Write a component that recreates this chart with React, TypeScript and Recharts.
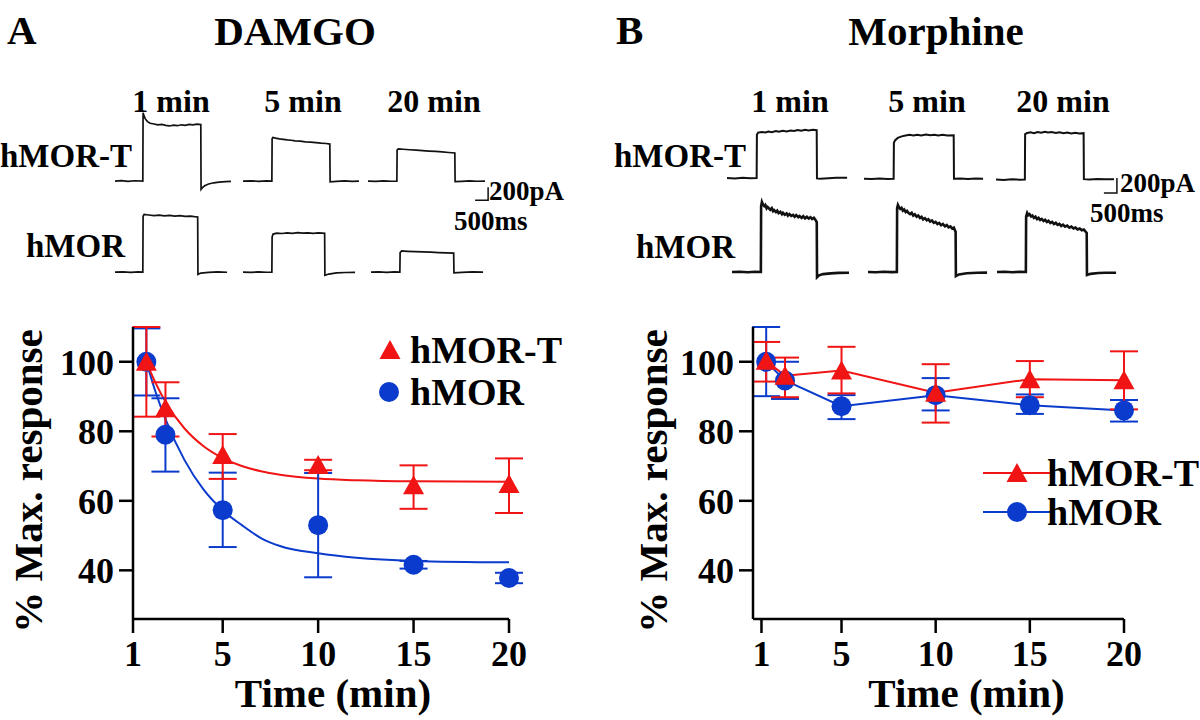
import { ComposedChart, LineChart, Line, XAxis, YAxis, ErrorBar, Legend } from "recharts";

const FONT = '"Liberation Serif", "Times New Roman", Times, serif';
const RED = "#f01414";
const BLUE = "#0b3bcc";

// x positions (min) of the measurements
const timesMin = [1, 2, 5, 10, 15, 20];
const yTicks = [40, 60, 80, 100];
// the "1" tick of panel A sits on the axis origin
const xTicksA = [0.3, 5, 10, 15, 20];
const xTicksB = [0.75, 5, 10, 15, 20];
const xTickLabels = ["1", "5", "10", "15", "20"];

// DAMGO, % max response, with error below / above
const damgoMorT = [100, 86.6, 73.2, 70.3, 64.5, 64.8];
const damgoMorTDown = [15.8, 8.1, 6.9, 1.5, 6.8, 8.3];
const damgoMorTUp = [10, 7.5, 6.0, 1.5, 5.7, 7.4];
const damgoMor = [100, 79, 57.3, 53, 41.6, 37.8];
const damgoMorDown = [9.7, 10.6, 10.6, 15, 1.1, 1.5];
const damgoMorUp = [9.6, 10.5, 10.8, 15, 1.1, 1.5];

// fitted decay curves
const fitTimes = [1, 1.5, 2, 3, 4, 5, 6, 7, 8, 10, 12, 15, 20];
const damgoMorTFit = [100, 93.7, 88.5, 80.8, 75.7, 72.3, 70, 68.5, 67.5, 66.4, 65.9, 65.6, 65.5];
const damgoMorFit = [100, 91, 83.5, 71.7, 63.2, 57.3, 53, 49.3, 47, 44.9, 43.6, 42.7, 42.3];

// Morphine
const morphMorT = [100.3, 96, 97.5, 91.1, 95, 94.7];
const morphMorTDown = [6, 6.2, 6.6, 8.6, 5.2, 8.4];
const morphMorTUp = [5.4, 5.2, 6.8, 8.2, 5.2, 8.3];
const morphMor = [100, 94.6, 87.2, 90.4, 87.5, 86];
const morphMorDown = [9.9, 5.3, 3.7, 4.4, 2.5, 3.2];
const morphMorUp = [10, 5.4, 3.2, 4.9, 3.1, 3];

// current traces: [time (s), current (pA)]
type Pt = [number, number];
const damgoT1: Pt[] = [[0,0],[0.25,6],[0.5,-4],[0.75,5],[1.07,0],[1.08,1050],[1.11,1010],[1.16,960],[1.25,915],[1.35,890],[1.5,878],[1.65,866],[1.8,872],[1.95,856],[2.1,848],[2.25,860],[2.4,852],[2.55,866],[2.7,858],[2.85,872],[3.0,864],[3.15,876],[3.3,870],[3.31,-125],[3.36,-100],[3.45,-72],[3.6,-45],[3.8,-26],[4.0,-15],[4.25,-8],[4.46,-5]];
const damgoT5: Pt[] = [[0,0],[0.3,4],[0.6,-3],[0.9,3],[1.11,0],[1.12,650],[1.15,672],[1.25,660],[1.4,650],[1.55,642],[1.7,634],[1.85,628],[2.0,620],[2.2,614],[2.4,604],[2.6,598],[2.8,592],[3.0,584],[3.2,578],[3.34,570],[3.35,-10],[3.6,-4],[3.9,3],[4.2,-3],[4.46,0]];
const damgoT20: Pt[] = [[0,0],[0.3,-4],[0.6,3],[0.9,-2],[1.11,0],[1.12,480],[1.17,496],[1.35,490],[1.6,482],[1.85,476],[2.1,470],[2.35,462],[2.6,456],[2.85,448],[3.1,440],[3.34,432],[3.35,-8],[3.6,-4],[3.9,2],[4.2,-2],[4.5,0]];
const damgoM1: Pt[] = [[0,0],[0.3,3],[0.6,-3],[0.9,2],[1.07,0],[1.08,860],[1.12,886],[1.3,878],[1.5,870],[1.7,876],[1.9,866],[2.1,872],[2.3,862],[2.5,868],[2.7,858],[2.9,862],[3.05,852],[3.18,848],[3.19,-35],[3.3,-15],[3.6,-5],[3.95,2],[4.31,-2]];
const damgoM5: Pt[] = [[0,0],[0.3,-3],[0.6,3],[0.9,-2],[1.11,0],[1.12,540],[1.16,585],[1.3,600],[1.5,594],[1.7,604],[1.9,596],[2.1,606],[2.3,598],[2.5,604],[2.7,596],[2.9,602],[3.05,598],[3.14,596],[3.15,-50],[3.3,-30],[3.6,-12],[3.95,-6],[4.31,-5]];
const damgoM20: Pt[] = [[0,0],[0.3,2],[0.6,-3],[0.9,2],[1.11,0],[1.12,300],[1.18,325],[1.4,320],[1.7,314],[2.0,310],[2.3,306],[2.6,301],[2.9,297],[3.18,292],[3.19,-10],[3.5,-4],[3.9,2],[4.31,0]];
const damgoBar: Pt[] = [[4.12,-293],[4.62,-293],[4.62,-93]];

const morphT1: Pt[] = [[0,0],[0.3,-5],[0.6,4],[0.9,-3],[1.14,0],[1.15,580],[1.2,605],[1.33,614],[1.47,606],[1.6,620],[1.72,612],[1.88,626],[2.0,616],[2.14,630],[2.3,622],[2.45,634],[2.58,626],[2.72,640],[2.86,630],[3.0,642],[3.14,634],[3.3,644],[3.45,638],[3.46,-5],[3.6,-10],[3.9,-2],[4.2,2],[4.62,3]];
const morphT5: Pt[] = [[0,-10],[0.3,-14],[0.6,-8],[0.9,-13],[1.14,-10],[1.15,470],[1.2,505],[1.3,535],[1.45,555],[1.6,566],[1.75,576],[1.9,566],[2.05,578],[2.2,568],[2.38,580],[2.55,570],[2.7,578],[2.86,566],[3.02,576],[3.2,566],[3.45,570],[3.46,-10],[3.7,-6],[4.0,-12],[4.3,-8],[4.58,-10]];
const morphT20: Pt[] = [[0,-20],[0.3,-25],[0.6,-16],[0.9,-22],[1.11,-20],[1.12,585],[1.2,600],[1.33,610],[1.46,598],[1.6,614],[1.74,604],[1.88,618],[2.0,606],[2.14,612],[2.3,600],[2.44,610],[2.6,598],[2.74,606],[2.9,594],[3.05,604],[3.2,594],[3.37,598],[3.38,-15],[3.6,-20],[3.9,-14],[4.2,-18],[4.54,-15]];
const morphM1: Pt[] = [[0,0],[0.3,4],[0.6,-3],[0.9,3],[1.11,0],[1.12,880],[1.15,935],[1.19,900],[1.24,880],[1.28,895],[1.33,850],[1.37,868],[1.43,845],[1.47,830],[1.53,852],[1.58,812],[1.62,826],[1.69,800],[1.74,818],[1.79,785],[1.86,802],[1.92,770],[1.96,790],[2.03,764],[2.1,782],[2.15,752],[2.21,772],[2.28,748],[2.35,762],[2.41,736],[2.47,758],[2.55,730],[2.6,746],[2.68,722],[2.74,744],[2.81,716],[2.88,736],[2.95,712],[3.02,730],[3.08,706],[3.15,724],[3.2,700],[3.26,665],[3.27,-70],[3.35,-45],[3.5,-28],[3.8,-18],[4.1,-12],[4.5,-10]];
const morphM5: Pt[] = [[0,0],[0.3,-3],[0.6,3],[0.9,-2],[1.11,0],[1.12,850],[1.15,893],[1.19,862],[1.24,842],[1.29,856],[1.34,818],[1.39,834],[1.45,800],[1.5,814],[1.56,786],[1.62,772],[1.68,790],[1.74,752],[1.8,768],[1.87,738],[1.93,754],[2.0,722],[2.06,736],[2.12,702],[2.19,718],[2.26,690],[2.32,704],[2.39,672],[2.46,688],[2.53,656],[2.6,668],[2.67,640],[2.74,654],[2.81,624],[2.88,640],[2.96,610],[3.03,626],[3.1,596],[3.17,608],[3.24,580],[3.3,592],[3.37,535],[3.38,-55],[3.5,-32],[3.8,-16],[4.2,-10],[4.58,-8]];
const morphM20: Pt[] = [[0,0],[0.3,4],[0.6,-3],[0.9,3],[1.11,0],[1.12,740],[1.16,787],[1.2,758],[1.25,772],[1.31,740],[1.36,752],[1.42,722],[1.48,738],[1.54,706],[1.6,722],[1.66,694],[1.72,708],[1.79,680],[1.85,696],[1.92,668],[1.98,684],[2.05,654],[2.12,668],[2.19,640],[2.26,656],[2.33,628],[2.4,642],[2.47,614],[2.54,630],[2.62,604],[2.7,618],[2.78,592],[2.86,606],[2.94,580],[3.02,594],[3.1,568],[3.18,580],[3.26,556],[3.34,566],[3.45,520],[3.46,-40],[3.6,-25],[3.9,-14],[4.2,-10],[4.58,-10]];
const morphBar: Pt[] = [[4.15,-200],[4.65,-200],[4.65,0]];

const legendOrder = ["hMOR-T", "hMOR"];

const toRows = (ys: number[], down: number[], up: number[]) =>
  timesMin.map((t, k) => ({ t, y: ys[k], err: [down[k], up[k]] }));
const toFit = (ys: number[]) => fitTimes.map((t, k) => ({ t, y: ys[k] }));
const toTrace = (pts: Pt[]) => pts.map(([t, i]) => ({ t, i }));

const AX = { stroke: "#000", strokeWidth: 2.5 };
const TICK = { fill: "#000", fontSize: 36, fontFamily: FONT, fontWeight: 700 };

const Tri = ({ cx, cy, color }: any) => (
  <polygon points={`${cx},${cy - 10} ${cx - 10.5},${cy + 9} ${cx + 10.5},${cy + 9}`} fill={color} />
);

const triDot = (p: any) => (p.cx == null ? null : <Tri key={`t${p.index}`} cx={p.cx} cy={p.cy} color={RED} />);
const circDot = (p: any) => (p.cx == null ? null : <circle key={`c${p.index}`} cx={p.cx} cy={p.cy} r={10} fill={BLUE} />);

const YTitle = ({ viewBox, bx, dy }: any) => {
  const y = viewBox.y + viewBox.height / 2 + dy;
  return (
    <text transform={`translate(${bx},${y}) rotate(-90)`} textAnchor="middle" fontFamily={FONT} fontWeight={700} fontSize={41} fill="#000">
      % Max. response
    </text>
  );
};

const XTitle = ({ viewBox, dx }: any) => (
  <text x={viewBox.x + viewBox.width / 2 + dx} y={viewBox.y + 88} textAnchor="middle" fontFamily={FONT} fontWeight={700} fontSize={41} fill="#000">
    Time (min)
  </text>
);

const legendA = (props: any) => {
  const names = (props.payload || []).map((p: any) => p.value);
  const items = legendOrder.filter((n) => names.includes(n));
  return (
    <svg width={210} height={90}>
      {items.map((n, k) => {
        const cy = 22 + k * 42;
        return (
          <g key={n}>
            {n === "hMOR-T" ? <Tri cx={15} cy={cy} color={RED} /> : <circle cx={14} cy={cy} r={10} fill={BLUE} />}
            <text x={35} y={cy + 13} fontFamily={FONT} fontWeight={700} fontSize={38} fill="#000">{n}</text>
          </g>
        );
      })}
    </svg>
  );
};

const legendB = (props: any) => {
  const names = (props.payload || []).map((p: any) => p.value);
  const items = legendOrder.filter((n) => names.includes(n));
  return (
    <svg width={220} height={90}>
      {items.map((n, k) => {
        const cy = 23 + k * 39;
        const c = n === "hMOR-T" ? RED : BLUE;
        return (
          <g key={n}>
            <line x1={3} x2={70} y1={cy} y2={cy} stroke={c} strokeWidth={2} />
            {n === "hMOR-T" ? <Tri cx={37} cy={cy} color={RED} /> : <circle cx={37} cy={cy} r={10} fill={BLUE} />}
            <text x={67} y={cy + 13} fontFamily={FONT} fontWeight={700} fontSize={38} fill="#000">{n}</text>
          </g>
        );
      })}
    </svg>
  );
};

const Sweep = ({ pts, left, base, domain, bar, sw = 1.7 }: any) => (
  <div style={{ position: "absolute", left, top: base - 80 }}>
    <LineChart width={130} height={110} margin={{ top: 0, right: 0, bottom: 0, left: 0 }}>
      <XAxis type="number" dataKey="t" domain={[0, 5]} hide allowDataOverflow />
      <YAxis type="number" domain={domain} hide allowDataOverflow />
      <Line data={toTrace(pts)} dataKey="i" type="linear" stroke="#111" strokeWidth={sw} dot={false} activeDot={false} isAnimationActive={false} />
      {bar && (
        <Line data={toTrace(bar)} dataKey="i" type="linear" stroke="#111" strokeWidth={1.5} dot={false} activeDot={false} isAnimationActive={false} />
      )}
    </LineChart>
  </div>
);

const DOM_A = [-460, 1232];
const DOM_B = [-400, 1067];

const txt = { fontFamily: FONT, fontWeight: 700, fill: "#000" };

export default function App() {
  return (
    <div style={{ position: "absolute", left: 0, top: 0, width: 1200, height: 720, background: "#fff", overflow: "hidden" }}>
      {/* DAMGO traces */}
      <Sweep pts={damgoT1} left={115} base={181} domain={DOM_A} />
      <Sweep pts={damgoT5} left={243} base={181} domain={DOM_A} />
      <Sweep pts={damgoT20} left={368} base={181} domain={DOM_A} bar={damgoBar} />
      <Sweep pts={damgoM1} left={115} base={272} domain={DOM_A} />
      <Sweep pts={damgoM5} left={243} base={272} domain={DOM_A} />
      <Sweep pts={damgoM20} left={371} base={272} domain={DOM_A} />
      {/* Morphine traces */}
      <Sweep pts={morphT1} left={727} base={178} domain={DOM_B} sw={2} />
      <Sweep pts={morphT5} left={864} base={178} domain={DOM_B} sw={2} />
      <Sweep pts={morphT20} left={996} base={178} domain={DOM_B} bar={morphBar} sw={2} />
      <Sweep pts={morphM1} left={732} base={272} domain={DOM_B} sw={2.6} />
      <Sweep pts={morphM5} left={868} base={272} domain={DOM_B} sw={2.6} />
      <Sweep pts={morphM20} left={997} base={272} domain={DOM_B} sw={2.6} />

      {/* panel A chart */}
      <div style={{ position: "absolute", left: 0, top: 300 }}>
        <ComposedChart width={540} height={420} margin={{ top: 27, right: 31, bottom: 0, left: 0 }}>
          <XAxis type="number" dataKey="t" domain={[0.3, 20]} ticks={xTicksA} interval={0}
            tickFormatter={(v: number, i: number) => xTickLabels[i]} height={101} tickSize={14} tickMargin={7}
            axisLine={AX} tickLine={AX} tick={TICK} label={<XTitle dx={12} />} />
          <YAxis type="number" domain={[26, 110]} ticks={yTicks} interval={0} width={133} tickSize={14} tickMargin={5}
            axisLine={AX} tickLine={AX} tick={TICK} label={<YTitle bx={42} dy={8} />} />
          <Line data={toFit(damgoMorFit)} dataKey="y" type="monotone" stroke={BLUE} strokeWidth={2} dot={false} activeDot={false} legendType="none" isAnimationActive={false} />
          <Line data={toFit(damgoMorTFit)} dataKey="y" type="monotone" stroke={RED} strokeWidth={2} dot={false} activeDot={false} legendType="none" isAnimationActive={false} />
          <Line data={toRows(damgoMor, damgoMorDown, damgoMorUp)} name="hMOR" dataKey="y" stroke="none" dot={circDot} activeDot={false} isAnimationActive={false}>
            <ErrorBar dataKey="err" direction="y" width={14} stroke={BLUE} strokeWidth={2} />
          </Line>
          <Line data={toRows(damgoMorT, damgoMorTDown, damgoMorTUp)} name="hMOR-T" dataKey="y" stroke="none" dot={triDot} activeDot={false} isAnimationActive={false}>
            <ErrorBar dataKey="err" direction="y" width={14} stroke={RED} strokeWidth={2} />
          </Line>
          <Legend layout="vertical" align="center" verticalAlign="middle" content={legendA} wrapperStyle={{ left: 375, top: 28, width: 210 }} />
        </ComposedChart>
      </div>

      {/* panel B chart */}
      <div style={{ position: "absolute", left: 600, top: 300 }}>
        <ComposedChart width={560} height={420} margin={{ top: 27, right: 36, bottom: 0, left: 0 }}>
          <XAxis type="number" dataKey="t" domain={[0.3, 20]} ticks={xTicksB} interval={0}
            tickFormatter={(v: number, i: number) => xTickLabels[i]} height={101} tickSize={14} tickMargin={7}
            axisLine={AX} tickLine={AX} tick={TICK} label={<XTitle dx={28} />} />
          <YAxis type="number" domain={[26, 110]} ticks={yTicks} interval={0} width={153} tickSize={14} tickMargin={5}
            axisLine={AX} tickLine={AX} tick={TICK} label={<YTitle bx={67} dy={8} />} />
          <Line data={toRows(morphMor, morphMorDown, morphMorUp)} name="hMOR" dataKey="y" type="linear" stroke={BLUE} strokeWidth={2} dot={circDot} activeDot={false} isAnimationActive={false}>
            <ErrorBar dataKey="err" direction="y" width={14} stroke={BLUE} strokeWidth={2} />
          </Line>
          <Line data={toRows(morphMorT, morphMorTDown, morphMorTUp)} name="hMOR-T" dataKey="y" type="linear" stroke={RED} strokeWidth={2} dot={triDot} activeDot={false} isAnimationActive={false}>
            <ErrorBar dataKey="err" direction="y" width={14} stroke={RED} strokeWidth={2} />
          </Line>
          <Legend layout="vertical" align="center" verticalAlign="middle" content={legendB} wrapperStyle={{ left: 380, top: 150, width: 220 }} />
        </ComposedChart>
      </div>

      {/* panel letters, titles and trace labels */}
      <svg width={1200} height={300} style={{ position: "absolute", left: 0, top: 0, pointerEvents: "none" }}>
        <text x={7} y={44} fontSize={41} {...txt}>A</text>
        <text x={295} y={45} fontSize={41} textAnchor="middle" {...txt}>DAMGO</text>
        <text x={171} y={112} fontSize={32} textAnchor="middle" {...txt}>1 min</text>
        <text x={303} y={112} fontSize={32} textAnchor="middle" {...txt}>5 min</text>
        <text x={434} y={112} fontSize={32} textAnchor="middle" {...txt}>20 min</text>
        <text x={0} y={167} fontSize={33} {...txt}>hMOR-T</text>
        <text x={26} y={257} fontSize={33} {...txt}>hMOR</text>
        <text x={489} y={200} fontSize={27} {...txt}>200pA</text>
        <text x={454} y={230} fontSize={27} {...txt}>500ms</text>

        <text x={616} y={44} fontSize={41} {...txt}>B</text>
        <text x={936} y={45} fontSize={41} textAnchor="middle" {...txt}>Morphine</text>
        <text x={790} y={112} fontSize={32} textAnchor="middle" {...txt}>1 min</text>
        <text x={927} y={112} fontSize={32} textAnchor="middle" {...txt}>5 min</text>
        <text x={1063} y={112} fontSize={32} textAnchor="middle" {...txt}>20 min</text>
        <text x={614} y={167} fontSize={33} {...txt}>hMOR-T</text>
        <text x={636} y={258} fontSize={33} {...txt}>hMOR</text>
        <text x={1120} y={192} fontSize={27} {...txt}>200pA</text>
        <text x={1090} y={222} fontSize={27} {...txt}>500ms</text>
      </svg>
    </div>
  );
}
